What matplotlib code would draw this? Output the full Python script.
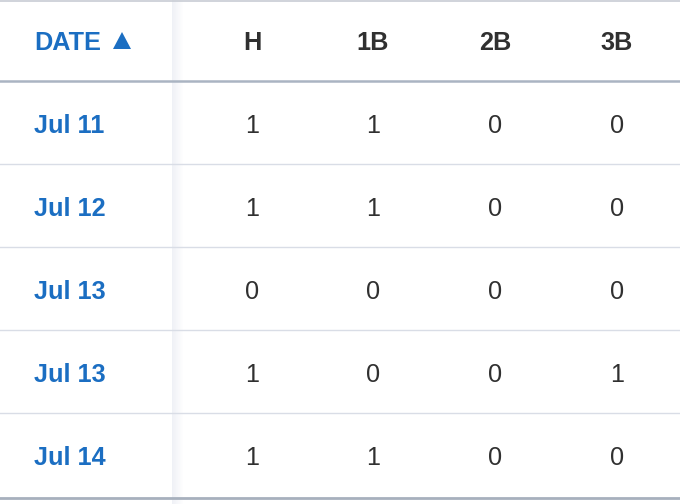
import matplotlib.pyplot as plt
from matplotlib.patches import Polygon, Rectangle

## Table data

columns = ['H', '1B', '2B', '3B']
dates = ['Jul 11', 'Jul 12', 'Jul 13', 'Jul 13', 'Jul 14']
hits = [1, 1, 0, 1, 1]
singles = [1, 1, 0, 0, 1]
doubles = [0, 0, 0, 0, 0]
triples = [0, 0, 0, 1, 0]

blue = '#1b6ec2'
dark = '#303030'
font = ['Liberation Sans', 'DejaVu Sans']
fs = 18.2

## Canvas in pixel coordinates

fig = plt.figure(figsize=(6.8, 5.04), dpi=100)
ax = fig.add_axes([0, 0, 1, 1])
ax.set_xlim(0, 680)
ax.set_ylim(504, 0)
ax.axis('off')

header_base = 50
row_h = 83
first_base = 133
col_x = [252, 373, 495, 617]

## Header

ax.text(34, header_base, 'DATE', color=blue, fontsize=fs, fontweight='bold',
        family=font, ha='left', va='baseline')
ax.add_patch(Polygon([[113, 49], [131, 49], [122, 32]], closed=True, color=blue, lw=0))
for x, name in zip(col_x, columns):
    ax.text(x, header_base, name, color=dark, fontsize=fs, fontweight='bold',
            family=font, ha='center', va='baseline')

## Lines

ax.axhline(0.5, color='#c8ccd4', lw=1.2)
ax.axhline(81, color='#aab4c2', lw=1.8)
for i in range(1, len(dates)):
    ax.axhline(81 + i * row_h, color='#d9dde6', lw=1.0)
ax.axhline(497.5, color='#a7b0bd', lw=2.0)

## Shadow of the frozen column

for k in range(11):
    ax.add_patch(Rectangle((172 + k, 0), 1, 504, color='#ccd1e2',
                           alpha=0.3 * (1 - k / 11), lw=0))

## Rows

values = list(zip(hits, singles, doubles, triples))
for i, (d, vals) in enumerate(zip(dates, values)):
    y = first_base + i * row_h
    ax.text(34, y, d, color=blue, fontsize=fs, fontweight='bold',
            family=font, ha='left', va='baseline')
    for x, v in zip(col_x, vals):
        ax.text(x, y, str(v), color=dark, fontsize=fs,
                family=font, ha='center', va='baseline')

fig.savefig('out.png', dpi=100)
